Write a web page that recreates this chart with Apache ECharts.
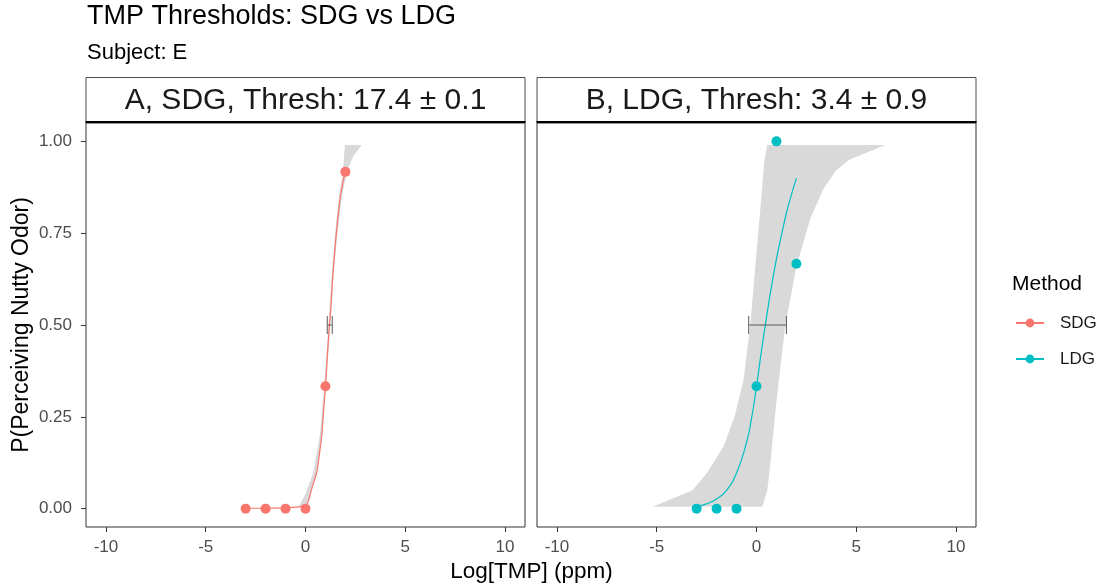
<!DOCTYPE html>
<html><head><meta charset="utf-8">
<script src="https://cdn.jsdelivr.net/npm/echarts@6/dist/echarts.min.js"></script>
<style>html,body{margin:0;padding:0;background:#fff}#c{width:1103px;height:586px}</style>
</head><body><div id="c"></div>
<script>
// ---- data ----
const xTicks = [-10, -5, 0, 5, 10];
const yTicks = [0, 0.25, 0.5, 0.75, 1];
const methods = ['SDG', 'LDG'];
const panelTitles = ['A, SDG, Thresh: 17.4 \u00b1 0.1', 'B, LDG, Thresh: 3.4 \u00b1 0.9'];

// observed proportions [log conc, P]
const sdgPoints = [[-3, 0], [-2, 0], [-1, 0], [0, 0], [1, 0.333], [2, 0.917]];
const ldgPoints = [[-3, 0], [-2, 0], [-1, 0], [0, 0.333], [1, 1], [2, 0.667]];

// fitted curves [log conc, P]
const sdgCurve = [[-3, 0.001], [-2, 0.001], [-1, 0.002], [-0.5, 0.004], [0, 0.008], [0.14, 0.02], [0.25, 0.042],
  [0.4, 0.07], [0.56, 0.098], [0.7, 0.15], [0.81, 0.197], [0.9, 0.26], [1.0, 0.333], [1.1, 0.42], [1.2, 0.5],
  [1.26, 0.541], [1.39, 0.65], [1.56, 0.758], [1.75, 0.85], [1.9, 0.895], [2.0, 0.915]];
const ldgCurve = [[-3, 0.006], [-2.5, 0.013], [-2, 0.026], [-1.5, 0.05], [-1, 0.097], [-0.5, 0.18], [-0.25, 0.245],
  [0, 0.333], [0.25, 0.43], [0.5, 0.52], [0.75, 0.605], [1.0, 0.68], [1.25, 0.745], [1.5, 0.805], [1.75, 0.855], [2.0, 0.9]];

// confidence ribbons (horizontal): P levels with lower / upper log conc
const sdgRibbonP  = [0.005, 0.04, 0.1, 0.2, 0.333, 0.5, 0.65, 0.76, 0.85, 0.92, 0.96, 0.99];
const sdgRibbonLo = [-0.35, 0.0, 0.4, 0.72, 0.94, 1.15, 1.33, 1.5, 1.68, 1.88, 1.93, 1.98];
const sdgRibbonHi = [0.05, 0.25, 0.58, 0.83, 1.02, 1.25, 1.43, 1.62, 1.82, 2.1, 2.4, 2.82];
const ldgRibbonP  = [0.005, 0.05, 0.1, 0.17, 0.25, 0.35, 0.5, 0.66, 0.79, 0.87, 0.92, 0.95, 0.99];
const ldgRibbonLo = [-5.2, -3.2, -2.45, -1.65, -1.1, -0.65, -0.31, -0.06, 0.15, 0.28, 0.35, 0.4, 0.54];
const ldgRibbonHi = [0.29, 0.54, 0.65, 0.78, 0.92, 1.12, 1.45, 2.0, 2.7, 3.35, 3.98, 4.64, 6.46];

// threshold error bars [centre, P, low, high]
const sdgThresh = [1.22, 0.5, 1.09, 1.34];
const ldgThresh = [0.53, 0.5, -0.39, 1.5];

// ---- styling ----
const FONT = 'Liberation Sans, Arial, sans-serif';
const COLORS = ['#F8766D', '#00BFC4'];
const RIBBON = '#d9d9d9';

function ribbonSeries(idx, ps, lo, hi) {
  return {
    type: 'custom', xAxisIndex: idx, yAxisIndex: idx, z: 1, silent: true,
    data: [[lo[0], ps[0]]],
    renderItem: function (params, api) {
      const pts = [];
      for (let i = 0; i < ps.length; i++) pts.push(api.coord([lo[i], ps[i]]));
      for (let i = ps.length - 1; i >= 0; i--) pts.push(api.coord([hi[i], ps[i]]));
      return { type: 'polygon', shape: { points: pts }, style: { fill: RIBBON } };
    }
  };
}
function errSeries(idx, t) {
  return {
    type: 'custom', xAxisIndex: idx, yAxisIndex: idx, z: 4, silent: true,
    data: [t],
    renderItem: function (params, api) {
      const y = api.value(1);
      const a = api.coord([api.value(2), y]);
      const b = api.coord([api.value(3), y]);
      const h = 9;
      const st = { stroke: '#595959', lineWidth: 1 };
      return { type: 'group', children: [
        { type: 'line', shape: { x1: a[0], y1: a[1], x2: b[0], y2: b[1] }, style: st },
        { type: 'line', shape: { x1: a[0], y1: a[1] - h, x2: a[0], y2: a[1] + h }, style: st },
        { type: 'line', shape: { x1: b[0], y1: b[1] - h, x2: b[0], y2: b[1] + h }, style: st }
      ] };
    }
  };
}
function xAxis(idx) {
  return {
    gridIndex: idx, type: 'value', min: -11, max: 11, position: 'bottom',
    splitLine: { show: false }, axisLine: { show: false, onZero: false },
    axisTick: { show: true, length: 5, customValues: xTicks, lineStyle: { color: '#333' } },
    axisLabel: { customValues: xTicks, color: '#4d4d4d', fontSize: 17, fontFamily: FONT, margin: 12 }
  };
}
function yAxis(idx, show) {
  return {
    gridIndex: idx, type: 'value', min: -0.05, max: 1.05, position: 'left',
    splitLine: { show: false }, axisLine: { show: false, onZero: false },
    axisTick: { show: show, length: 5, customValues: yTicks, lineStyle: { color: '#333' } },
    axisLabel: { show: show, customValues: yTicks, color: '#4d4d4d', fontSize: 17, fontFamily: FONT, margin: 14,
      formatter: v => v.toFixed(2) }
  };
}
const grids = [
  { left: 86, top: 123, width: 439, height: 404 },
  { left: 537, top: 123, width: 439, height: 404 }
].map(g => Object.assign(g, { show: true, borderColor: '#333', borderWidth: 1, backgroundColor: '#fff' }));

const strips = grids.map((g, i) => ({
  type: 'group', children: [
    { type: 'rect', shape: { x: g.left, y: 77.5, width: g.width, height: 45 },
      style: { fill: '#fff', stroke: '#4d4d4d', lineWidth: 1 } },
    { type: 'line', shape: { x1: g.left - 0.5, y1: 122, x2: g.left + g.width + 0.5, y2: 122 },
      style: { stroke: '#000', lineWidth: 2 } },
    { type: 'text', style: { text: panelTitles[i], x: g.left + g.width / 2, y: 101,
      align: 'center', verticalAlign: 'middle', font: '30px ' + FONT, fill: '#1a1a1a' } }
  ]
}));

const option = {
  animation: false,
  backgroundColor: '#fff',
  title: [
    { text: 'TMP Thresholds: SDG vs LDG', left: 87, top: 3, padding: 0,
      textStyle: { fontSize: 27, fontWeight: 'normal', color: '#000', fontFamily: FONT } },
    { text: 'Subject: E', left: 87, top: 42, padding: 0,
      textStyle: { fontSize: 22, fontWeight: 'normal', color: '#000', fontFamily: FONT } },
    { text: 'Method', left: 1012, top: 273.5, padding: 0,
      textStyle: { fontSize: 21, fontWeight: 'normal', color: '#000', fontFamily: FONT } }
  ],
  legend: {
    orient: 'vertical', left: 1015, top: 313, padding: 0,
    itemWidth: 28, itemHeight: 11, itemGap: 16,
    data: methods,
    textStyle: { fontSize: 17, color: '#1a1a1a', fontFamily: FONT, lineHeight: 20, padding: [0, 0, 0, 11] }
  },
  grid: grids,
  xAxis: [xAxis(0), xAxis(1)],
  yAxis: [yAxis(0, true), yAxis(1, false)],
  graphic: strips.concat([
    { type: 'text', style: { text: 'Log[TMP] (ppm)', x: 531.5, y: 572, align: 'center', verticalAlign: 'middle',
      font: '22.5px ' + FONT, fill: '#000' } },
    { type: 'text', rotation: Math.PI / 2, x: 22, y: 325,
      style: { text: 'P(Perceiving Nutty Odor)', x: 0, y: 0, align: 'center', verticalAlign: 'middle',
      font: '23px ' + FONT, fill: '#000' } }
  ]),
  series: [
    ribbonSeries(0, sdgRibbonP, sdgRibbonLo, sdgRibbonHi),
    ribbonSeries(1, ldgRibbonP, ldgRibbonLo, ldgRibbonHi),
    { name: methods[0], type: 'line', xAxisIndex: 0, yAxisIndex: 0, data: sdgCurve, z: 3,
      showSymbol: false, symbol: 'circle', symbolSize: 9, smooth: 0.4,
      lineStyle: { color: COLORS[0], width: 1.2 }, itemStyle: { color: COLORS[0] } },
    { name: methods[1], type: 'line', xAxisIndex: 1, yAxisIndex: 1, data: ldgCurve, z: 3,
      showSymbol: false, symbol: 'circle', symbolSize: 9, smooth: 0.5,
      lineStyle: { color: COLORS[1], width: 1.2 }, itemStyle: { color: COLORS[1] } },
    errSeries(0, sdgThresh),
    errSeries(1, ldgThresh),
    { name: methods[0], type: 'scatter', xAxisIndex: 0, yAxisIndex: 0, data: sdgPoints, z: 5,
      symbolSize: 10, itemStyle: { color: COLORS[0], opacity: 1 } },
    { name: methods[1], type: 'scatter', xAxisIndex: 1, yAxisIndex: 1, data: ldgPoints, z: 5,
      symbolSize: 10, itemStyle: { color: COLORS[1], opacity: 1 } }
  ]
};
echarts.init(document.getElementById('c')).setOption(option);
</script></body></html>
